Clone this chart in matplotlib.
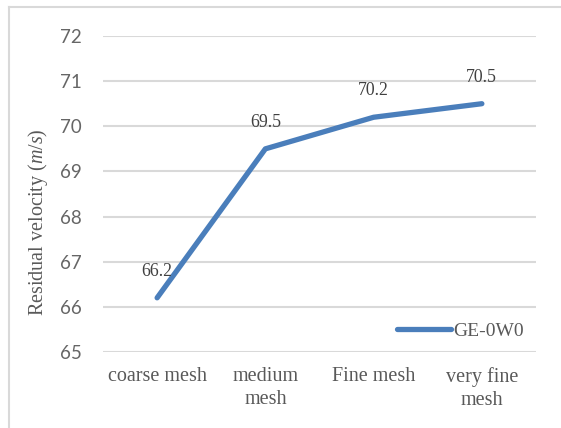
import matplotlib.pyplot as plt
from matplotlib.lines import Line2D

plt.rcParams['mathtext.fontset'] = 'custom'
plt.rcParams['mathtext.it'] = 'Liberation Serif:italic'
plt.rcParams['mathtext.rm'] = 'Liberation Serif'

# chart data
categories = ['coarse mesh', 'medium\nmesh', 'Fine mesh', 'very fine\nmesh']
velocity = [66.2, 69.5, 70.2, 70.5]
series_name = 'GE-0W0'
y_ticks = [65, 66, 67, 68, 69, 70, 71, 72]

line_color = '#4A7EBB'
grid_color = '#D9D9D9'
text_color = '#595959'

fig = plt.figure(figsize=(5.61, 4.28), dpi=100)
ax = fig.add_axes([0.1836, 0.1776, 0.7718, 0.7383])

x = list(range(len(categories)))
ax.plot(x, velocity, color=line_color, linewidth=3.8, solid_capstyle='round',
        solid_joinstyle='round', label=series_name, zorder=3)

# data labels above each point
for xi, v in zip(x, velocity):
    ax.annotate(f'{v}', (xi, v), xytext=(0, 19), textcoords='offset points',
                ha='center', va='center', fontsize=12.8, color='#404040',
                family='Liberation Serif')

ax.set_xlim(-0.5, len(categories) - 0.5)
ax.set_ylim(65, 72)
ax.set_yticks(y_ticks)
ax.set_yticklabels([str(t) for t in y_ticks], family='Lato', fontsize=13.5,
                   color='#666666')
ax.set_xticks(x)
ax.set_xticklabels(categories, family='Liberation Serif', fontsize=14.5,
                   color=text_color, linespacing=1.3)
ax.tick_params(axis='both', length=0)
ax.tick_params(axis='y', pad=15)
ax.tick_params(axis='x', pad=11)

ax.grid(axis='y', color=grid_color, linewidth=1.5)
ax.set_axisbelow(True)
for s in ax.spines.values():
    s.set_visible(False)

fig.text(38 / 561, 1 - 222 / 428, 'Residual velocity ($m/s$)', rotation=90,
         ha='center', va='center', family='Liberation Serif', fontsize=14.5,
         color=text_color)

handle = Line2D([0], [0], color=line_color, linewidth=3.8, solid_capstyle='round')
leg = ax.legend([handle], [series_name], loc='center right', frameon=False,
                prop={'family': 'Liberation Serif', 'size': 14},
                handlelength=2.8, handletextpad=0.1, borderaxespad=0,
                bbox_to_anchor=(0.99, 0.066))
for t in leg.get_texts():
    t.set_color(text_color)

# outer chart border (partly cropped in the original)
fig.add_artist(Line2D([9 / 561, 9 / 561], [0, 1 - 7 / 428], color='#D9D9D9',
                      linewidth=1.5, transform=fig.transFigure))
fig.add_artist(Line2D([9 / 561, 1], [1 - 7 / 428, 1 - 7 / 428], color='#D9D9D9',
                      linewidth=1.5, transform=fig.transFigure))

fig.savefig('out.png', dpi=100)
